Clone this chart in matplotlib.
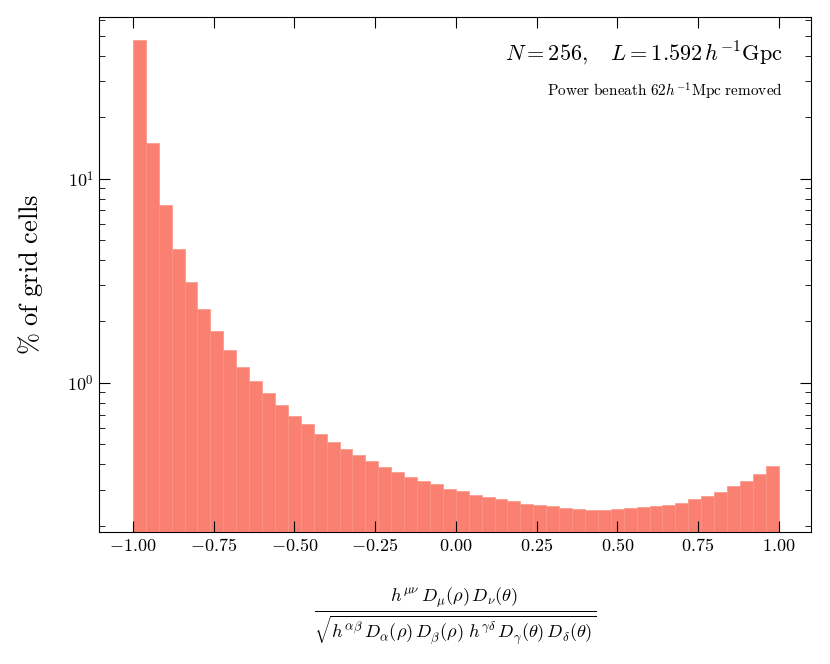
import numpy as np
import matplotlib
matplotlib.use("Agg")
import matplotlib.pyplot as plt

plt.rcParams["mathtext.fontset"] = "cm"
plt.rcParams["font.family"] = "serif"
plt.rcParams["font.serif"] = ["DejaVu Serif"]

# histogram: 50 bins on [-1, 1], % of grid cells
bin_edges = np.linspace(-1.0, 1.0, 51)
percent = [47.6, 14.9, 7.43, 4.54, 3.12, 2.31, 1.80, 1.45, 1.20, 1.02,
           0.890, 0.780, 0.692, 0.628, 0.563, 0.516, 0.475, 0.443, 0.415, 0.388,
           0.366, 0.346, 0.330, 0.318, 0.303, 0.294, 0.282, 0.276, 0.269, 0.263,
           0.256, 0.251, 0.249, 0.245, 0.240, 0.238, 0.238, 0.242, 0.243, 0.247,
           0.249, 0.253, 0.259, 0.271, 0.279, 0.292, 0.312, 0.331, 0.358, 0.391]
xticks = [-1.0, -0.75, -0.5, -0.25, 0.0, 0.25, 0.5, 0.75, 1.0]

fig = plt.figure(figsize=(8.3, 6.64), dpi=100)
ax = fig.add_axes([99 / 830, 1 - 532 / 664, 712 / 830, 515 / 664])
ax.bar(bin_edges[:-1], percent, width=np.diff(bin_edges), align="edge",
       color="#fa8072", edgecolor="#fb9486", linewidth=0.5)
ax.set_yscale("log")
ax.set_ylim(0.186, 62)
ax.set_xlim(-1.105, 1.1)
ax.set_xticks(xticks)
ax.set_xticklabels([f"${t:.2f}$" for t in xticks], fontsize=13)
ax.set_yticks([1, 10])
ax.set_yticklabels([r"$10^{0}$", r"$10^{1}$"], fontsize=13)
ax.tick_params(which="both", direction="in", top=True, right=True)
ax.tick_params(which="major", length=8)
ax.tick_params(which="minor", length=4)
ax.tick_params(axis="x", which="minor", top=False, bottom=False)

ax.set_ylabel(r"$\%\ \mathrm{of\ grid\ cells}$", fontsize=19, labelpad=16)
ax.set_xlabel(r"$\frac{h^{\mu\nu}\,D_\mu(\rho)\,D_\nu(\theta)}"
              r"{\sqrt{h^{\alpha\beta}\,D_\alpha(\rho)\,D_\beta(\rho)\ "
              r"h^{\gamma\delta}\,D_\gamma(\theta)\,D_\delta(\theta)}}$",
              fontsize=19, labelpad=22)
ax.text(0.96, 0.93, r"$N=256,\quad L=1.592\,h^{-1}\mathrm{Gpc}$",
        transform=ax.transAxes, ha="right", va="center", fontsize=16)
ax.text(0.96, 0.855, r"$\mathrm{Power\ beneath\ 62}h^{-1}\mathrm{Mpc\ removed}$",
        transform=ax.transAxes, ha="right", va="center", fontsize=11)

fig.savefig("out.png", dpi=100)
